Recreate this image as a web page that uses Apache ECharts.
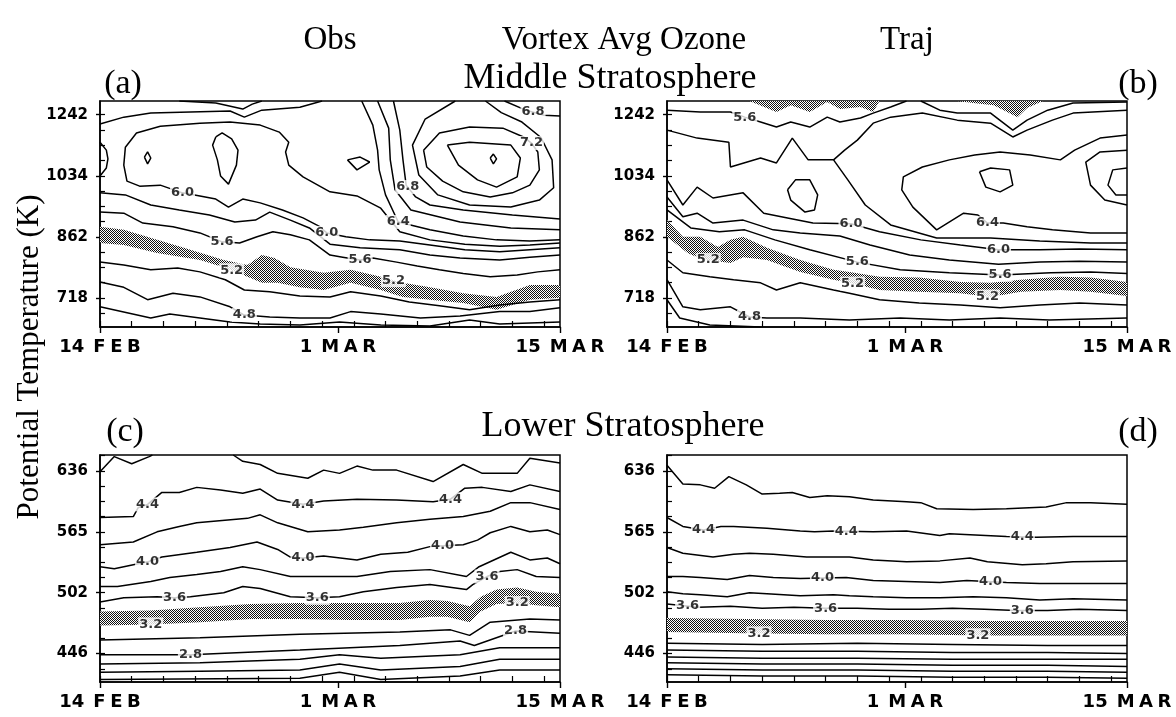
<!DOCTYPE html>
<html>
<head>
<meta charset="utf-8">
<title>Vortex Avg Ozone</title>
<script src="https://cdn.jsdelivr.net/npm/echarts@6.0.0/dist/echarts.min.js"></script>
<style>
  html, body { margin: 0; padding: 0; background: #fff; }
  #chart { width: 1176px; height: 717px; }
</style>
</head>
<body>
<div id="chart"></div>
<script>
// ---------- axes ----------
// x: days after 14 February
const dayTickValues = [0, 15, 29];
const dayTickLabels = ['14\u2002F\u2005E\u2005B', '1\u2002M\u2005A\u2005R', '15\u2002M\u2005A\u2005R'];
const dayMinorTicks = [0, 2, 4, 6, 8, 10, 12, 14, 16, 18, 20, 22, 24, 26, 28];
// y: potential temperature (K), log spaced
const midThetaTicks = [718, 862, 1034, 1242];
const lowThetaTicks = [446, 502, 565, 636];
const midThetaRange = [658, 1294];
const lowThetaRange = [422, 656];

// ---------- (a) observed, middle stratosphere: contour lines as [day, theta K] ----------
const obsMid46 = [[0,699],[3.2,676],[4.4,684],[6.3,676],[8.2,668],[10.1,664],[12.6,662],[15.1,668],[17.7,662],[20.8,660],[23.3,672],[25.2,664],[29,668]];
const obsMid48 = [[0,753],[1.5,741],[3,714],[4.6,728],[6.3,720],[8.2,699],[9.1,682],[10.7,678],[12.6,676],[14.5,676],[15.8,689],[17.7,684],[20.2,676],[22.7,680],[25.2,689],[27.1,689],[29,697]];
const obsMid50 = [[0,799],[1.5,792],[3.2,781],[4.9,785],[6.3,776],[7.9,758],[9.1,735],[10.7,731],[12.6,722],[14.5,720],[15.8,731],[17.7,722],[19.5,709],[21.4,701],[23.3,693],[25.2,703],[27.1,709],[29,714]];
const obsMidBand54 = [[0,888],[1.5,880],[3.6,854],[5.7,829],[7.8,804],[9.3,792],[10.2,816],[11,809],[12,787],[14.1,774],[15.8,781],[17.7,765],[19.1,751],[20.8,741],[22.9,728],[25,720],[27.1,746],[29,746]];
const obsMidBand52 = [[0,846],[1.5,841],[3.6,821],[6.3,804],[7.8,787],[9.3,765],[10.2,751],[11.2,751],[12.6,741],[14.1,735],[15.8,751],[17.7,735],[19.1,720],[20.8,714],[22.9,707],[25,693],[27.1,714],[29,718]];
const obsMid56 = [[0,928],[1.5,925],[2.7,898],[4.6,888],[6.3,872],[7.7,849],[8.8,846],[9.9,862],[10.9,875],[12,867],[13.2,854],[14.5,816],[15.3,811],[16.4,804],[17.2,809],[18.7,799],[20,790],[21.4,781],[22.9,772],[24.6,765],[26.3,769],[27.6,776],[29,781]];
const obsMid58 = [[0,983],[1.6,977],[3.2,948],[5,934],[6.9,920],[8.5,901],[9.8,906],[10.7,928],[12,906],[13.2,885],[14.5,843],[16.4,834],[18.9,829],[20.8,816],[22.7,809],[25.2,804],[27.1,811],[29,816]];
const obsMid60 = [[29,846],[27.1,841],[25.2,838],[23,843],[20.8,854],[18.9,875],[17.7,939],[16.2,974],[14.5,986],[12.8,1031],[11.9,1068],[11.7,1111],[11.9,1144],[11.3,1179],[10.1,1204],[8.2,1215],[6.3,1211],[3.8,1200],[2.3,1176],[1.6,1127],[1.5,1068],[1.7,1018],[2.5,1003],[3.8,1006],[5.2,983],[6.3,974],[7.3,965],[8.1,942],[9,965],[10.1,954],[11.5,934],[12.8,912],[13.8,890],[14.3,872],[15.5,862],[17,854],[18.9,851],[20.8,841],[23,829],[25.2,824],[27.1,829],[29,834]];
const obsMid60Edge = [[0,1144],[0.4,1117],[0.5,1088],[0.4,1059],[0,1034]];
const obsMid62Dot = [[2.8,1094],[3,1111],[3.2,1091],[3,1072],[2.8,1094]];
const obsMid62Oval = [[7.3,1162],[7.7,1176],[8.3,1155],[8.7,1117],[8.6,1068],[8.1,1009],[7.6,1034],[7.4,1085],[7.1,1134],[7.3,1162]];
const obsMid62Loop = [[15.6,1085],[16.4,1094],[17,1078],[16.2,1053],[15.6,1085]];
const obsMidTop58 = [[0,1208],[1.5,1233],[3.2,1248],[5.7,1252],[8.2,1256],[9.1,1233],[10.2,1259],[12.6,1270],[14,1294]];
const obsMidTop56 = [[5,1294],[7.3,1286],[9,1263],[9.6,1282],[10.2,1294]];
const obsMid64 = [[16.5,1294],[17.2,1204],[17.5,1117],[17.6,1053],[18,977],[18.8,901],[20.8,880],[22.9,864],[25,854],[27.1,851],[29,854]];
const obsMid66 = [[17.5,1294],[18.2,1193],[18.3,1085],[18.6,992],[19.6,934],[22.7,901],[25.9,885],[29,880]];
const obsMid68 = [[18.5,1294],[18.9,1186],[19.1,1085],[19.3,1006],[19.9,971],[20.8,948],[22.9,934],[26,920],[29,909]];
const obsMid68Top = [[25.5,1294],[26.8,1260],[28,1240],[29,1237]];
const obsMid70 = [[22.4,1294],[20.5,1226],[19.7,1134],[20.1,1037],[21.3,977],[23.3,948],[25.9,942],[27.7,962],[28.6,998],[28.5,1085],[27.8,1160],[26.6,1215],[25.3,1250],[24.3,1294]];
const obsMid72 = [[20.4,1117],[21.4,1176],[23.3,1197],[25.4,1193],[26.7,1162],[27.2,1141],[27.6,1111],[27.7,1053],[27.1,1006],[26,983],[24.6,971],[22.9,986],[21.6,1018],[20.6,1062],[20.4,1117]];
const obsMid74 = [[21.9,1134],[23.3,1144],[25.9,1134],[26.5,1091],[26.3,1031],[25,1000],[23.8,1022],[22.6,1068],[21.9,1134]];
const obsMid76 = [[24.6,1091],[24.8,1104],[25,1088],[24.8,1072],[24.6,1091]];

// ---------- (b) trajectory, middle stratosphere ----------
const trajMid46 = [[0,714],[0.8,676],[2.7,662],[5.9,658]];
const trajMid48 = [[0,758],[1,699],[2.1,693],[4,699],[5.2,678],[6.3,676],[8.4,676],[11.5,672],[14.7,676],[17.8,672],[21,676],[24.1,672],[29,676]];
const trajMid50 = [[0,804],[1,774],[2.7,765],[4.2,758],[5.9,751],[6.9,735],[8.4,751],[10.5,735],[11.5,728],[13.4,714],[15.9,707],[18.5,703],[21,697],[23.5,703],[26,707],[29,703]];
const trajMidBand54 = [[0,906],[1,862],[2.1,862],[3.2,836],[4,854],[4.8,862],[6.3,834],[8.4,804],[10.5,781],[11.5,776],[13.4,765],[15.9,763],[18.5,753],[20.4,751],[22.3,758],[24.8,765],[26.7,763],[29,753]];
const trajMidBand52 = [[0,862],[1.3,821],[1.9,811],[2.6,804],[4,797],[4.8,811],[6.3,804],[8.4,776],[10.5,758],[11.5,751],[13.4,735],[15.9,731],[18.5,728],[20.4,720],[22.3,731],[24.8,735],[26.7,731],[29,722]];
const trajMid56 = [[0,934],[1.5,885],[3.3,875],[4.9,880],[6.8,854],[9,829],[12,799],[14.7,781],[17.8,774],[21,769],[24.2,774],[26.7,776],[29,772]];
const trajMid58 = [[0,971],[1,915],[1.9,925],[2.9,898],[4.8,906],[6.7,880],[8.4,872],[10.9,864],[12.8,841],[15.3,816],[17.8,804],[20.9,794],[23.5,799],[26,801],[29,799]];
const trajMid60 = [[0,1022],[1,948],[1.9,1000],[2.9,968],[4.8,983],[6.1,925],[7.6,912],[9.2,898],[11.6,896],[13.4,875],[16,854],[18.5,841],[20.9,829],[23.5,829],[26,831],[29,829]];
const trajMid62 = [[0,1186],[1.9,1158],[3.9,1144],[4,1062],[5.9,1091],[6.9,1075],[7.9,1158],[8.9,1085],[10.5,1085],[11.4,1022],[12.5,948],[14.1,893],[17,859],[20.4,859],[23.5,851],[26.7,846],[29,846]];
const trajMid64 = [[29,1169],[27.3,1158],[25.7,1117],[24.8,1085],[22.9,1101],[21,1111],[19.4,1101],[17.8,1085],[16.1,1062],[14.9,1031],[14.8,992],[15.5,942],[17,880],[18.7,925],[19.6,920],[20.2,898],[21.2,898],[22.7,888],[24.3,880],[26.7,872],[29,872]];
const trajMid66Loop = [[19.7,1047],[20.4,1059],[21.6,1053],[21.8,1006],[21,986],[20.1,1000],[19.7,1047]];
const trajMid66Edge = [[29,1117],[27.3,1111],[26.4,1078],[26.7,1006],[27.6,962],[29,948]];
const trajMid68Edge = [[29,1059],[28.1,1053],[27.8,1006],[28.3,977],[29,977]];
const trajMid62Loop = [[7.6,992],[8.1,1022],[9,1022],[9.5,977],[9.3,934],[8.7,928],[7.8,962],[7.6,992]];
const trajMidUpper = [[10.5,1085],[11.2,1117],[12,1151],[13,1211],[14.1,1233],[16.1,1248],[18.3,1222],[20.4,1211],[21.8,1162],[22.7,1186],[24.3,1222],[25.6,1248],[29,1259]];
const trajMidTop56 = [[0,1259],[2.1,1252],[4,1252],[4.9,1233],[5.9,1215],[6.9,1197],[7.8,1215],[9,1197],[10.1,1233],[10.9,1215],[12.2,1230],[13,1248],[14.1,1271],[15.1,1294]];
const trajMidTop56b = [[16,1294],[17.2,1259],[18.3,1248],[20.4,1248],[21.8,1186],[22.7,1222],[24,1259],[25.6,1286],[29,1290]];
const trajMidCapA = [[5.2,1294],[6.9,1252],[7.8,1278],[9,1252],[10.1,1290],[10.9,1263],[12.2,1271],[13,1252],[13.4,1294]];
const trajMidCapB = [[18.3,1294],[19.3,1286],[20.6,1278],[22.1,1233],[22.7,1267],[23.7,1294]];

// ---------- (c) observed, lower stratosphere ----------
const obsLow46a = [[0,635],[0.9,654],[2,645],[3.1,654],[3.3,656]];
const obsLow46b = [[8.4,656],[9,648],[10.1,644],[11.2,633],[13.1,627],[14.1,637],[15.1,633],[16.2,642],[17.2,637],[18.7,637],[21,623],[22.9,644],[24.1,633],[26.3,633],[27.1,652],[29,646]];
const obsLow44 = [[0,581],[2.1,582],[2.4,592],[3,596],[3.9,610],[5,610],[6.1,616],[7.6,613],[9,609],[10.1,614],[11.2,601],[12.8,596],[14.1,600],[16.2,602],[18.7,601],[21,599],[22.1,602],[23,615],[24.1,616],[25.9,611],[27.1,619],[29,611]];
const obsLow42 = [[0,551],[2.1,554],[3.6,565],[5,571],[6.1,575],[9.3,580],[10.1,584],[11.2,575],[13.1,565],[15.1,567],[16.6,570],[18.7,575],[20.8,579],[22.9,582],[24.6,588],[25.9,598],[27.1,598],[29,590]];
const obsLow40 = [[0,528],[0.9,526],[2.1,530],[3,533],[3.9,538],[6.1,543],[8.2,548],[9.9,554],[11.2,546],[12,538],[12.8,537],[14.1,539],[16.2,535],[17.7,541],[19.4,543],[20.8,549],[21.6,550],[22.9,551],[23.8,556],[24.6,564],[25.9,571],[27.1,565],[28.2,567],[29,562]];
const obsLow38 = [[0,508],[1.1,508],[3.2,513],[4.4,517],[6.1,520],[7.6,523],[9,528],[10.1,525],[12,518],[14.1,518],[16.2,518],[18.3,523],[20.8,525],[23.1,518],[23.9,528],[25.9,543],[27.1,535],[28.2,537],[29,531]];
const obsLow36 = [[0,493],[1.5,497],[3.6,498],[4.7,497],[5.7,498],[7.8,502],[9,508],[10.1,506],[12,498],[13.7,497],[15.1,498],[16.6,503],[18.7,507],[20.8,510],[23.1,505],[23.5,510],[24.4,518],[25.2,523],[26.3,525],[27.5,518],[29,517]];
const obsLowBand34 = [[0,484],[3.2,485],[6.3,488],[9.5,491],[12.6,492],[15.8,492],[18.9,492],[20.8,495],[21.9,494],[23.3,489],[24,498],[25,505],[26.3,507],[27.5,503],[29,501]];
const obsLowBand32 = [[0,471],[3.2,472],[6.3,474],[9.5,477],[12.6,477],[15.8,476],[18.9,476],[20.8,479],[21.9,479],[23.3,474],[24,484],[25,491],[26.3,492],[27.5,490],[29,488]];
const obsLow30 = [[0,458],[6.3,460],[12.6,463],[18.9,465],[22.1,467],[23.3,462],[24.6,474],[27.1,477],[29,476]];
const obsLow28 = [[0,445],[5.7,445],[12.6,449],[18.9,453],[22.7,457],[23.6,453],[26.2,466],[29,464]];
const obsLow26 = [[0,437],[6.3,438],[12.6,441],[15.1,445],[17.7,442],[22.7,445],[25.2,451],[29,451]];
const obsLow24 = [[0,430],[6.3,431],[12.6,432],[15.1,437],[17.7,432],[22.7,435],[25.2,441],[29,441]];
const obsLow22 = [[0,424],[12.6,425],[15.1,430],[17.7,424],[22.7,427],[25.2,432],[29,432]];

// ---------- (d) trajectory, lower stratosphere ----------
const trajLow46 = [[0,643],[1,620],[2.1,619],[3,615],[3.9,629],[5,619],[6,608],[7.1,609],[7.9,610],[9,604],[10.1,606],[11.5,605],[13,601],[15.1,599],[16,598],[17,591],[19.3,590],[21.4,591],[23.9,593],[25.2,598],[26.7,598],[29,596]];
const trajLow44 = [[0,581],[1,571],[2.3,567],[3.4,571],[4.2,571],[6.3,569],[8.4,566],[9.3,565],[10.5,566],[13,565],[15.1,566],[17.2,561],[17.8,563],[21.4,560],[23.3,559],[25.6,560],[29,560]];
const trajLow42 = [[0,548],[1,542],[2.9,538],[4.2,541],[5.2,542],[6.7,541],[8.8,538],[11.5,538],[13,535],[15.1,533],[17.2,534],[19.1,537],[20.2,533],[22.4,530],[23.9,531],[25.6,533],[29,534]];
const trajLow40 = [[0,518],[1,518],[2.1,517],[3.8,515],[5.2,519],[6.7,517],[8.4,516],[11.3,517],[13,514],[15.1,513],[17.2,512],[18.9,514],[21.4,512],[23.5,511],[29,511]];
const trajLow38 = [[0,503],[1,501],[2.1,500],[3.8,498],[5.2,502],[6.3,501],[8.4,499],[10.5,500],[11.5,499],[13,498],[15.1,497],[17.2,497],[19.3,498],[21.4,497],[23.5,495],[25.6,496],[29,495]];
const trajLow36 = [[0,491],[2,488],[4,489],[6,487],[8,488],[10,487],[12,487],[14,486],[16,486],[18,487],[20,486],[22,485],[24,485],[26,486],[29,485]];
const trajLowBand34 = [[0,478],[5,477],[10,476],[15,476],[20,475],[25,475],[29,475]];
const trajLowBand32 = [[0,465],[5,464],[10,463],[15,463],[20,462],[25,462],[29,462]];
const trajLow30 = [[0,455],[6,454],[12,455],[18,454],[24,453],[29,453]];
const trajLow28 = [[0,449],[6,448],[12,448],[18,447],[24,447],[29,446]];
const trajLow26 = [[0,443],[6,442],[12,442],[18,441],[24,441],[29,441]];
const trajLow24 = [[0,438],[6,437],[12,437],[18,436],[24,436],[29,435]];
const trajLow22 = [[0,433],[6,432],[12,432],[18,431],[24,431],[29,430]];
const trajLow20 = [[0,428],[6,427],[12,427],[18,426],[24,426],[29,425]];

// ---------- panel tables ----------
// labels: [contour, level, day, 'lo' | 'hi' to pick among several crossings]
const panels = [
  { left: 100, top: 101, height: 226, range: midThetaRange, ticks: midThetaTicks,
    lines: [obsMid46, obsMid48, obsMid50, obsMid56, obsMid58, obsMid60, obsMid60Edge, obsMid62Dot, obsMid62Oval, obsMid62Loop,
            obsMidTop58, obsMidTop56, obsMid64, obsMid66, obsMid68, obsMid68Top, obsMid70, obsMid72, obsMid74, obsMid76],
    bands: [[obsMidBand54, obsMidBand52]],
    labels: [[obsMid60, 6.0, 5.2, 'lo'], [obsMid60, 6.0, 14.3, 'lo'], [obsMid56, 5.6, 7.7], [obsMid56, 5.6, 16.4],
             [obsMidBand52, 5.2, 8.3], [obsMidBand54, 5.2, 18.5], [obsMid48, 4.8, 9.1], [obsMid64, 6.4, 18.8],
             [obsMid68, 6.8, 19.4], [obsMid68Top, 6.8, 27.3], [obsMid72, 7.2, 27.2]] },
  { left: 667, top: 101, height: 226, range: midThetaRange, ticks: midThetaTicks,
    lines: [trajMid46, trajMid48, trajMid50, trajMid56, trajMid58, trajMid60, trajMid62, trajMid64, trajMid66Loop, trajMid66Edge,
            trajMid68Edge, trajMid62Loop, trajMidUpper, trajMidTop56, trajMidTop56b],
    bands: [[trajMidBand54, trajMidBand52], [[[5.2,1294],[13.4,1294]], trajMidCapA], [[[18.3,1294],[23.7,1294]], trajMidCapB]],
    labels: [[trajMidTop56, 5.6, 4.9], [trajMid60, 6.0, 11.6], [trajMid60, 6.0, 20.9], [trajMid64, 6.4, 20.2, 'lo'],
             [trajMid56, 5.6, 12], [trajMid56, 5.6, 21], [trajMidBand52, 5.2, 2.6], [trajMidBand52, 5.2, 11.7],
             [trajMidBand52, 5.2, 20.2], [trajMid48, 4.8, 5.2]] },
  { left: 100, top: 455, height: 227, range: lowThetaRange, ticks: lowThetaTicks,
    lines: [obsLow46a, obsLow46b, obsLow44, obsLow42, obsLow40, obsLow38, obsLow36, obsLow30, obsLow28, obsLow26, obsLow24, obsLow22],
    bands: [[obsLowBand34, obsLowBand32]],
    labels: [[obsLow44, 4.4, 3.0], [obsLow44, 4.4, 12.8], [obsLow44, 4.4, 22.1], [obsLow40, 4.0, 3.0], [obsLow40, 4.0, 12.8],
             [obsLow40, 4.0, 21.6], [obsLow36, 3.6, 4.7], [obsLow36, 3.6, 13.7], [obsLow36, 3.6, 24.4],
             [obsLowBand32, 3.2, 3.2], [obsLowBand32, 3.2, 26.3], [obsLow28, 2.8, 5.7], [obsLow28, 2.8, 26.2]] },
  { left: 667, top: 455, height: 227, range: lowThetaRange, ticks: lowThetaTicks,
    lines: [trajLow46, trajLow44, trajLow42, trajLow40, trajLow38, trajLow36, trajLow30, trajLow28, trajLow26, trajLow24, trajLow22, trajLow20],
    bands: [[trajLowBand34, trajLowBand32]],
    labels: [[trajLow44, 4.4, 2.3], [trajLow44, 4.4, 11.3], [trajLow44, 4.4, 22.4], [trajLow40, 4.0, 9.8], [trajLow40, 4.0, 20.4],
             [trajLow36, 3.6, 1.3], [trajLow36, 3.6, 10], [trajLow36, 3.6, 22.4], [trajLowBand32, 3.2, 5.8], [trajLowBand32, 3.2, 19.6]] }
];

// ---------- helpers ----------
const LN = Math.log;
function thetaAt(pts, day, pick) {
  const hits = [];
  for (let i = 0; i < pts.length - 1; i++) {
    const [d0, t0] = pts[i], [d1, t1] = pts[i + 1];
    if ((day - d0) * (day - d1) <= 0 && d0 !== d1) {
      hits.push(t0 + (t1 - t0) * (day - d0) / (d1 - d0));
    }
  }
  if (!hits.length) return pts[0][1];
  if (pick === 'lo') return Math.min(...hits);
  if (pick === 'hi') return Math.max(...hits);
  return hits[0];
}
function minorTicks(ticks, range) {
  const step = (LN(ticks[ticks.length - 1]) - LN(ticks[0])) / ((ticks.length - 1) * 4);
  const out = [];
  for (let v = LN(ticks[0]); v >= LN(range[0]) - 1e-9; v -= step) out.push(v);
  for (let v = LN(ticks[0]) + step; v <= LN(range[1]) + 1e-9; v += step) out.push(v);
  return out;
}

const stipple = (() => {
  const c = document.createElement('canvas');
  c.width = 4; c.height = 4;
  const g = c.getContext('2d');
  g.fillStyle = '#fff'; g.fillRect(0, 0, 4, 4);
  g.fillStyle = '#111';
  for (let y = 0; y < 4; y++) for (let x = 0; x < 4; x++) if ((x + y) % 2 === 0) g.fillRect(x, y, 1, 1);
  return c;
})();

const black = '#000';
const tickFont = { color: black, fontFamily: 'DejaVu Sans', fontWeight: 'bold' };
const axisLineStyle = { color: black, width: 1.5 };

const grids = [], xAxes = [], yAxes = [], series = [];
const xMajor = [], yMajor = [];
panels.forEach((p, i) => {
  grids.push({ left: p.left, top: p.top, width: 460, height: p.height, show: true,
               borderColor: black, borderWidth: 1.5, backgroundColor: 'transparent' });
  xAxes.push({
    gridIndex: i, type: 'value', min: 0, max: 29,
    axisLine: { show: true, onZero: false, lineStyle: axisLineStyle },
    axisTick: { show: true, inside: true, length: 6, customValues: dayMinorTicks, lineStyle: { color: black, width: 1.2 } },
    axisLabel: Object.assign({ show: true, margin: 11, fontSize: 18, customValues: dayTickValues,
      formatter: v => dayTickLabels[dayTickValues.indexOf(Math.round(v))] }, tickFont),
    splitLine: { show: false }
  });
  yAxes.push({
    gridIndex: i, type: 'value', min: LN(p.range[0]), max: LN(p.range[1]),
    axisLine: { show: true, onZero: false, lineStyle: axisLineStyle },
    axisTick: { show: true, inside: true, length: 5, customValues: minorTicks(p.ticks, p.range), lineStyle: { color: black, width: 1.2 } },
    axisLabel: Object.assign({ show: true, margin: 12, fontSize: 15, customValues: p.ticks.map(LN),
      formatter: v => { const t = p.ticks.find(k => Math.abs(LN(k) - v) < 1e-6); return t ? String(t) : ''; } }, tickFont),
    splitLine: { show: false }
  });
  // outward marks at the labelled positions
  xMajor.push({
    gridIndex: i, type: 'value', min: 0, max: 29, position: 'bottom', offset: 0,
    axisLine: { show: false }, axisLabel: { show: false }, splitLine: { show: false },
    axisTick: { show: true, inside: false, length: 6, customValues: dayTickValues, lineStyle: { color: black, width: 1.4 } }
  });
  yMajor.push({
    gridIndex: i, type: 'value', min: LN(p.range[0]), max: LN(p.range[1]), position: 'left', offset: 0,
    axisLine: { show: false }, axisLabel: { show: false }, splitLine: { show: false },
    axisTick: { show: true, inside: false, length: 4, customValues: p.ticks.map(LN), lineStyle: { color: black, width: 1.4 } }
  });
  p.bands.forEach(([upper, lower]) => {
    series.push({
      type: 'custom', xAxisIndex: i, yAxisIndex: i, silent: true, z: 2, clip: true,
      data: [[upper[0][0], LN(upper[0][1])]],
      renderItem: (params, api) => {
        const pts = upper.map(q => api.coord([q[0], LN(q[1])]))
          .concat(lower.slice().reverse().map(q => api.coord([q[0], LN(q[1])])));
        return { type: 'polygon', shape: { points: pts }, style: { fill: { image: stipple, repeat: 'repeat' }, stroke: null } };
      }
    });
  });
  p.lines.forEach(pts => {
    series.push({
      type: 'line', xAxisIndex: i, yAxisIndex: i, silent: true, z: 3, symbol: 'none', showSymbol: false,
      data: pts.map(q => [q[0], LN(q[1])]),
      lineStyle: { color: black, width: 1.5 }
    });
  });
  series.push({
    type: 'scatter', xAxisIndex: i, yAxisIndex: i, silent: true, z: 6, symbolSize: 1,
    itemStyle: { color: 'rgba(0,0,0,0)' },
    data: p.labels.map(([pts, level, day, pick]) => ({ value: [day, LN(thetaAt(pts, day, pick))], text: level.toFixed(1) })),
    label: { show: true, position: 'inside', formatter: q => q.data.text, color: black,
             fontFamily: 'DejaVu Sans', fontWeight: 'bold', fontSize: 13, backgroundColor: '#fff', padding: [1, 1, 0, 1] }
  });
});

const serif = '"Liberation Serif", "Times New Roman", serif';
const txt = (text, x, y, size, extra) => Object.assign({
  type: 'text', x, y, silent: true,
  style: { text, font: `${size}px ${serif}`, fill: black, textAlign: 'center', textVerticalAlign: 'middle' }
}, extra || {});

const chart = echarts.init(document.getElementById('chart'), null, { renderer: 'canvas' });
chart.setOption({
  animation: false,
  backgroundColor: '#fff',
  grid: grids, xAxis: xAxes.concat(xMajor), yAxis: yAxes.concat(yMajor), series,
  graphic: [
    txt('Obs', 330, 40, 33),
    txt('Vortex Avg Ozone', 624, 40, 33),
    txt('Traj', 907, 40, 33),
    txt('Middle Stratosphere', 610, 79, 36),
    txt('Lower Stratosphere', 623, 427, 36),
    txt('(a)', 123, 84, 34),
    txt('(b)', 1138, 84, 34),
    txt('(c)', 125, 432, 34),
    txt('(d)', 1138, 432, 34),
    txt('Potential Temperature (K)', 30, 357, 31, { rotation: Math.PI / 2 })
  ]
});
</script>
</body>
</html>
